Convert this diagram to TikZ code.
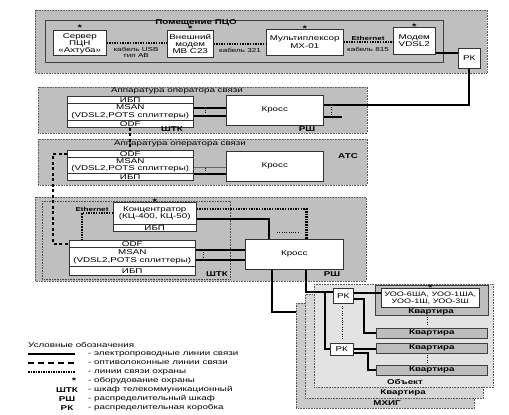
\documentclass[tikz,border=0pt]{standalone}
\usepackage{fontspec}
\setmainfont[FakeStretch=1.4]{Liberation Sans}
\begin{document}
\begin{tikzpicture}[x=1pt,y=-1pt, font=\fontsize{7}{7.5}\selectfont,
  grp/.style={draw=black!65, densely dotted, fill=gray!50, line width=0.6pt},
  card/.style={draw=black!65, densely dotted, line width=0.6pt, anchor=north west, inner sep=0pt},
  innerbox/.style={draw=black!75, line width=0.7pt},
  wbox/.style={draw=black!80, fill=white, line width=0.5pt, inner sep=0pt, align=center, anchor=north west},
  apt/.style={draw=black!75, fill=gray!52, line width=0.6pt, inner sep=0pt, anchor=north west},
  elec/.style={line width=2pt, black},
  thinl/.style={line width=1pt, black!60},
  sec/.style={line width=2.3pt, black, dash pattern=on 1.5pt off 1.1pt},
  opt/.style={line width=2.3pt, black, dash pattern=on 3pt off 2.5pt},
  lbl/.style={font=\fontsize{7}{7.5}\selectfont\bfseries, inner sep=0pt},
  txt/.style={inner sep=0pt, align=center},
  small/.style={font=\fontsize{5.8}{6.2}\selectfont, inner sep=0pt, align=center},
  starmark/.style={font=\fontsize{8}{8}\selectfont\bfseries, inner sep=0pt, anchor=center, yshift=0.5pt},
  vdots/.style={line width=0.9pt, dash pattern=on 1pt off 1.3pt},
]
\useasboundingbox (0,0) rectangle (509,415);
\fill[white] (0,0) rectangle (509,415);

% ---------- top group: Помещение ПЦО
\draw[grp] (35,10) rectangle (487,73);
\draw[innerbox] (45,20) rectangle (443,62);
\node[lbl] (t1) at (196,23) {Помещение ПЦО};
\node[wbox, minimum width=53pt, minimum height=25pt, font=\fontsize{7}{7}\selectfont, text depth=-2.5pt] (srv) at (53,30) {Сервер\\ПЦН\\«Ахтуба»};
\node[wbox, minimum width=46pt, minimum height=27pt, font=\fontsize{7}{7}\selectfont, text depth=-2.5pt] (mdm) at (167,30) {Внешний\\модем\\МВ С23};
\node[wbox, minimum width=77pt, minimum height=26pt] (mux) at (266,29) {Мультиплексор\\МХ-01};
\node[wbox, minimum width=42pt, minimum height=27pt] (vdsl) at (393,27) {Модем\\VDSL2};
\node[wbox, minimum width=22pt, minimum height=20pt] (rk0) at (458,48) {РК};
\node[starmark, yshift=1.5pt] (s1) at (srv.north) {*};
\node[starmark, yshift=0.3pt] (s2) at (mdm.north) {*};
\node[starmark] (s3) at (mux.north) {*};
\node[starmark] (s4) at (vdsl.north) {*};
\draw[sec] (srv.east) -- (srv.east -| mdm.west);
\draw[sec] (mdm.east) -- (mdm.east -| mux.west);
\draw[sec] (mux.east) -- (mux.east -| vdsl.west);
\node[small] (c1) at (136,52) {кабель USB\\тип АВ};
\node[small] (c2) at (240,50) {кабель 321};
\node[small, font=\fontsize{5.8}{6.2}\selectfont\bfseries] (c3) at (368,38) {Ethernet};
\node[small] (c4) at (368,49) {кабель 815};
\draw[elec] ([yshift=2pt]vdsl.south east) coordinate (a0) -- (a0 -| rk0.west);

% ---------- group 2
\draw[grp] (38,87) rectangle (367,133);
\node[txt] (t2) at (177,91) {Аппаратура оператора связи};
\node[wbox, minimum width=126pt, minimum height=7pt] (ibp2) at (67,96) {ИБП};
\node[wbox, minimum width=126pt, minimum height=17pt] (msan2) at (67,103) {MSAN\\(VDSL2,POTS сплиттеры)};
\node[wbox, minimum width=126pt, minimum height=7pt] (odf2) at (67,120) {ODF};
\node[wbox, minimum width=97pt, minimum height=30pt] (kr2) at (226,95) {Кросс};
\node[lbl] (l21) at (172,129.5) {ШТК};
\node[lbl] (l22) at (307,129.5) {РШ};
\draw[elec] (msan2.east |- 0,108) -- (kr2.west |- 0,108);
\draw[elec] (msan2.east |- 0,116) -- (kr2.west |- 0,116);
\draw[vdots] (205,110) -- (205,115);
\draw[elec] (rk0.south) |- (kr2.east |- 0,105);
\draw[elec] (kr2.east |- 0,117) -- (342,117);
\draw[vdots] (331,107) -- (331,114);

% ---------- group 3
\draw[grp] (38,139) rectangle (367,185);
\node[txt] (t3) at (180,143.5) {Аппаратура оператора связи};
\node[wbox, minimum width=126pt, minimum height=7pt] (odf3) at (67,150) {ODF};
\node[wbox, minimum width=126pt, minimum height=16pt] (msan3) at (67,157) {MSAN\\(VDSL2,POTS сплиттеры)};
\node[wbox, minimum width=126pt, minimum height=7pt] (ibp3) at (67,173) {ИБП};
\node[wbox, minimum width=97pt, minimum height=30pt] (kr3) at (226,151) {Кросс};
\node[lbl] (l31) at (348,156) {АТС};
\draw[thinl] (msan3.east |- 0,167) -- (kr3.west |- 0,167);
\draw[elec] (msan3.east |- 0,174) -- (kr3.west |- 0,174);
\draw[vdots] (205,168) -- (205,173);
\draw[opt] (odf2.south) -- (odf3.north);

% ---------- group 4
\draw[grp] (35,197) rectangle (366,281);
\draw[draw=black!70, densely dotted, line width=0.6pt] (42,201) rectangle (230,279);
\node[wbox, minimum width=83pt, minimum height=22pt] (conc) at (113,202) {Концентратор\\(КЦ-400, КЦ-50)};
\node[wbox, minimum width=83pt, minimum height=7pt] (ibp4a) at (113,224) {ИБП};
\node[starmark] (s5) at (conc.north) {*};
\node[wbox, minimum width=126pt, minimum height=7pt] (odf4) at (69,240) {ODF};
\node[wbox, minimum width=126pt, minimum height=19pt] (msan4) at (69,247) {MSAN\\(VDSL2,POTS сплиттеры)};
\node[wbox, minimum width=126pt, minimum height=9pt] (ibp4) at (69,266) {ИБП};
\node[wbox, minimum width=98pt, minimum height=30pt] (kr4) at (245,239) {Кросс};
\node[lbl] (l41) at (217,274) {ШТК};
\node[lbl] (l42) at (332,274) {РШ};
\node[lbl, font=\fontsize{5.8}{6.2}\selectfont\bfseries] (eth) at (92,209) {Ethernet};
\draw[sec] (conc.west) -| ([xshift=13pt]odf4.north west);
\draw[sec] ([yshift=4pt]conc.east) -| ([xshift=-37pt]kr4.north east);
\draw[elec] ([yshift=-6pt]conc.east) -| ([xshift=24pt]kr4.north west);
\draw[vdots] (277,232) -- (298,232);
\draw[elec] (msan4.east |- 0,250) -- (kr4.west |- 0,250);
\draw[elec] (msan4.east |- 0,260) -- (kr4.west |- 0,260);
\draw[vdots] (203,252) -- (203,257);
\draw[opt] (odf3.west) -- ++(-14,0) |- (odf4.west);

% ---------- cards
\node[card, fill=gray!42, minimum width=178pt, minimum height=105pt] (mhig) at (296,303) {};
\node[card, fill=gray!32, minimum width=178pt, minimum height=104pt] (kv) at (305,294) {};
\node[card, fill=gray!22, minimum width=179pt, minimum height=103pt] (obj) at (314,284) {};
\node[lbl] (lm) at (387,403) {МХИГ};
\node[lbl] (lk) at (403,393) {Квартира};
\node[lbl] (lo) at (405,382) {Объект};

\node[apt, minimum width=113pt, minimum height=30pt] (ap1) at (375,285) {};
\node[lbl] (la1) at (431,311.5) {Квартира};
\node[wbox, minimum width=98pt, minimum height=19pt, font=\fontsize{6.5}{7}\selectfont] (uoo) at (381,288) {УОО-6ША, УОО-1ША,\\УОО-1Ш, УОО-3Ш};
\node[starmark] (s6) at (uoo.north) {*};
\node[apt, minimum width=111pt, minimum height=10pt] (ap2) at (376,328) {\bfseries Квартира};
\node[apt, minimum width=111pt, minimum height=10pt] (ap3) at (376,343) {\bfseries Квартира};
\node[apt, minimum width=111pt, minimum height=10pt] (ap4) at (376,365) {\bfseries Квартира};
\draw[vdots] (427,317) -- (427,326);
\draw[vdots] (427,355) -- (427,363);
\node[wbox, minimum width=20pt, minimum height=15pt] (rk1) at (333,288) {РК};
\node[wbox, minimum width=23pt, minimum height=12pt] (rk2) at (330,343) {РК};
\draw[vdots] (342,306) -- (342,340);

\draw[elec] ([xshift=27pt]kr4.south west) |- (mhig.west |- 0,312);
\draw[elec] ([xshift=-38pt]kr4.south east) |- ([yshift=4pt]rk1.west);
\coordinate (j1) at (325,291.5);
\draw[elec] (j1) |- (rk2.west);
\draw[elec] ([yshift=3pt]rk1.east) coordinate (b1) -- (b1 -| uoo.west);
\draw[elec] ([yshift=-3pt]rk1.east) -- ++(10,0) |- (ap2.west);
\draw[elec] (rk2.east) -- (rk2.east -| ap3.west);
\draw[elec] ([yshift=-4pt]rk2.east) -- ++(14,0) |- (ap4.west);

% ---------- legend
\node[anchor=west, inner sep=0pt] (lg0) at (28,345) {Условные обозначения};
\draw[line width=1.8pt] (28,354) -- (75,354);
\draw[line width=2.2pt, dash pattern=on 6pt off 4pt] (28,363) -- (75,363);
\draw[line width=2.2pt, dash pattern=on 1.5pt off 1pt] (28,372) -- (75,372);
\node[anchor=north, inner sep=0pt, font=\fontsize{8}{8}\selectfont\bfseries] (lgs) at (74,378) {*};
\node[lbl] (lg4) at (67,390) {ШТК};
\node[lbl] (lg5) at (67,399) {РШ};
\node[lbl] (lg6) at (67,408) {РК};
\node[anchor=west, inner sep=0pt] (lt1) at (88,354) {- электропроводные линии связи};
\node[anchor=west, inner sep=0pt] (lt2) at (88,363) {- оптиволоконные линии связи};
\node[anchor=west, inner sep=0pt] (lt3) at (88,372) {- линии связи охраны};
\node[anchor=west, inner sep=0pt] (lt4) at (88,381) {- оборудование охраны};
\node[anchor=west, inner sep=0pt] (lt5) at (88,390) {- шкаф телекоммуникационный};
\node[anchor=west, inner sep=0pt] (lt6) at (88,399) {- распределительный шкаф};
\node[anchor=west, inner sep=0pt] (lt7) at (88,408) {- распределительная коробка};
\end{tikzpicture}
\end{document}
